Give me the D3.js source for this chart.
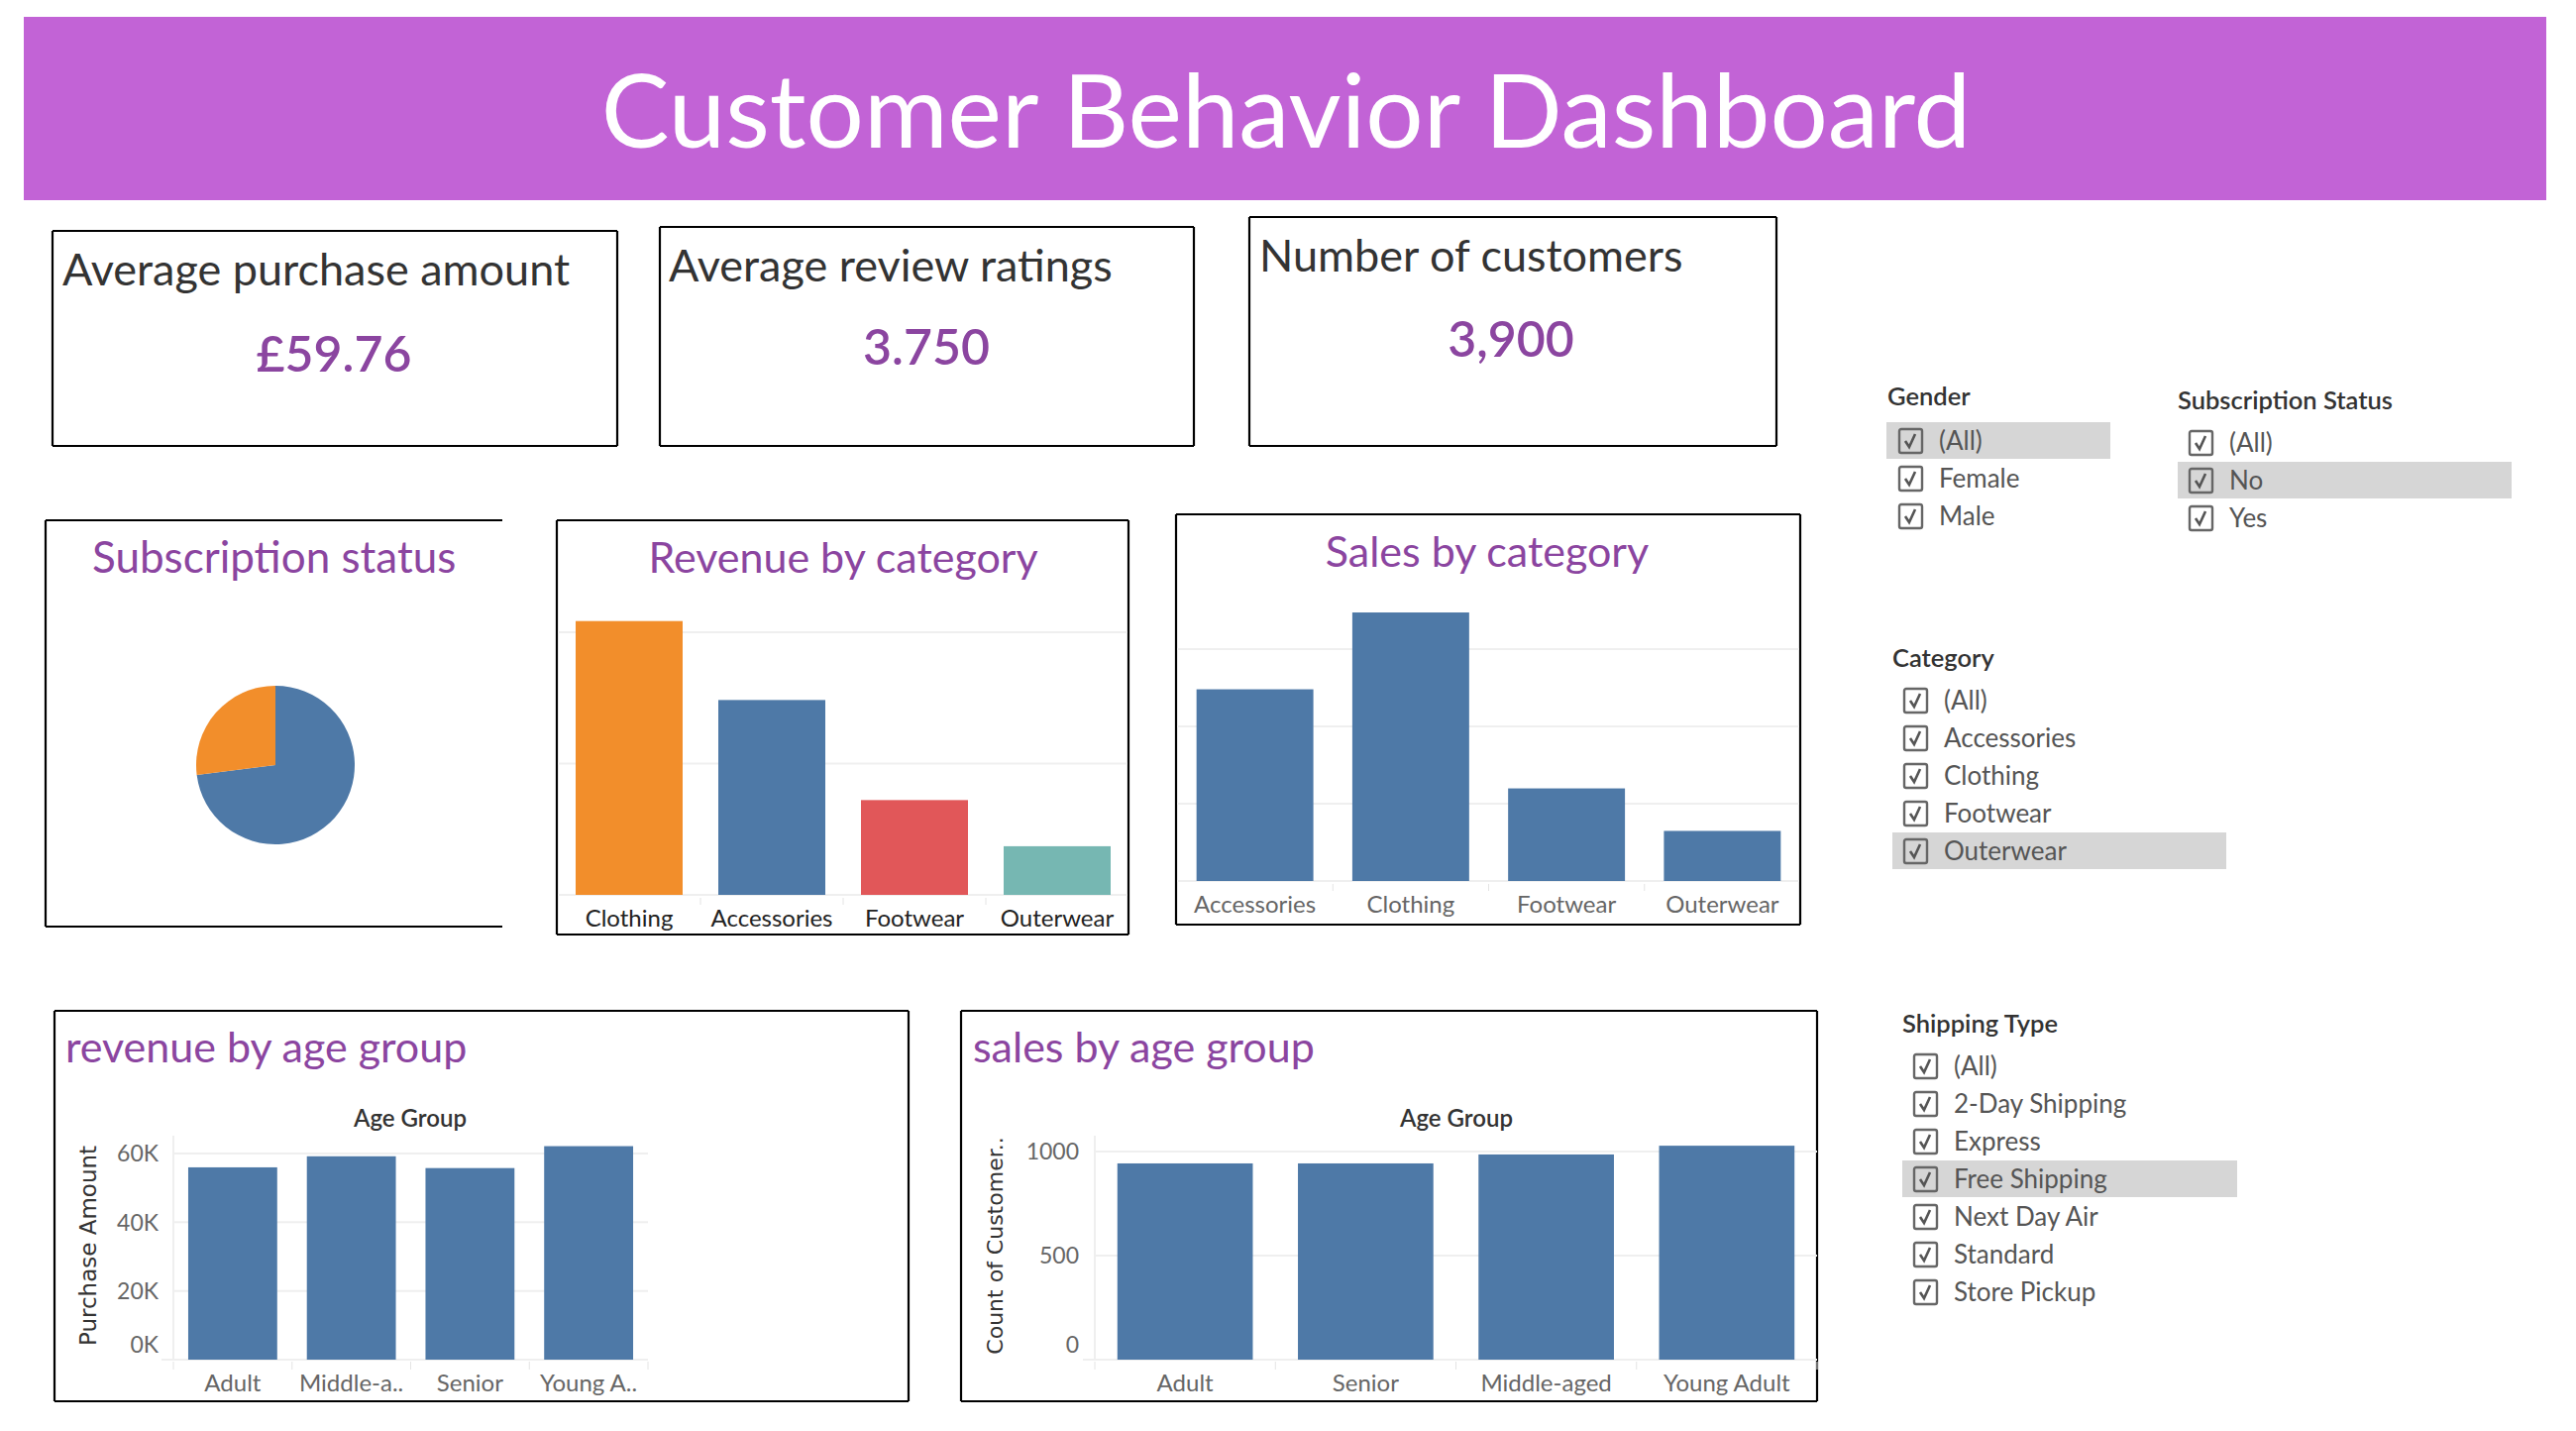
<!DOCTYPE html>
<html>
<head>
<meta charset="utf-8">
<script src="https://cdn.jsdelivr.net/npm/d3@7"></script>
<style>
  body { margin: 0; background: #fff; }
  svg { display: block; font-family: Lato, "Open Sans", sans-serif; }
</style>
</head>
<body>
<div id="dash"></div>
<script>
// values
const kpiTitles = ['Average purchase amount', 'Average review ratings', 'Number of customers']
const kpiValues = ['£59.76', '3.750', '3,900']

const subStatus = ['No', 'Yes']
const subCounts = [2847, 1053]

const revCategories = ['Clothing', 'Accessories', 'Footwear', 'Outerwear']
const revByCategory = [104264, 74200, 36093, 18524]
const revCatTicks = [0, 50000, 100000]

const salesCategories = ['Accessories', 'Clothing', 'Footwear', 'Outerwear']
const salesByCategory = [1240, 1737, 599, 324]
const salesCatTicks = [0, 500, 1000, 1500]

const revAgeGroups = ['Adult', 'Middle-a..', 'Senior', 'Young A..']
const revByAge = [55978, 59197, 55763, 62143]
const revAgeTicks = [0, 20000, 40000, 60000]
const revAgeTickLabels = ['0K', '20K', '40K', '60K']

const salesAgeGroups = ['Adult', 'Senior', 'Middle-aged', 'Young Adult']
const salesByAge = [943, 943, 986, 1028]
const salesAgeTicks = [0, 500, 1000]

const genderItems = ['(All)', 'Female', 'Male']
const subscriptionItems = ['(All)', 'No', 'Yes']
const categoryItems = ['(All)', 'Accessories', 'Clothing', 'Footwear', 'Outerwear']
const shippingItems = ['(All)', '2-Day Shipping', 'Express', 'Free Shipping', 'Next Day Air', 'Standard', 'Store Pickup']

const purple = '#8b45a0'
const tabBlue = '#4e79a7'
const catColors = ['#f28e2b', '#4e79a7', '#e15759', '#76b7b2']
const gridColor = '#efefef'

let svg = d3.select('#dash').append('svg')
.attr('width', 2600)
.attr('height', 1444)

// banner
svg.append('rect')
.attr('x', 24).attr('y', 17)
.attr('width', 2546).attr('height', 185)
.attr('fill', '#c263d6')

svg.append('text')
.attr('x', 1298).attr('y', 149)
.attr('text-anchor', 'middle')
.attr('fill', '#fff')
.style('font-size', '103px')
.text('Customer Behavior Dashboard')

const box = (x0, y0, x1, y1, sides) => {
	sides = sides || 'tblr'
	let g = svg.append('g').attr('stroke', '#000').attr('stroke-width', 2.2)
	if (sides.includes('t')) g.append('line').attr('x1', x0).attr('x2', x1).attr('y1', y0).attr('y2', y0)
	if (sides.includes('b')) g.append('line').attr('x1', x0).attr('x2', x1).attr('y1', y1).attr('y2', y1)
	if (sides.includes('l')) g.append('line').attr('x1', x0).attr('x2', x0).attr('y1', y0).attr('y2', y1)
	if (sides.includes('r')) g.append('line').attr('x1', x1).attr('x2', x1).attr('y1', y0).attr('y2', y1)
}

// KPI cards
const kpiBoxes = [
	{x0: 53, y0: 233, x1: 623, y1: 450, tx: 63, ty: 288, vx: 337, vy: 375},
	{x0: 666, y0: 229, x1: 1205, y1: 450, tx: 675, ty: 284, vx: 935, vy: 368},
	{x0: 1261, y0: 219, x1: 1793, y1: 450, tx: 1271, ty: 274, vx: 1525, vy: 360}
]

kpiBoxes.forEach((b, i) => {
	box(b.x0, b.y0, b.x1, b.y1)
	svg.append('text')
	.attr('x', b.tx).attr('y', b.ty)
	.attr('fill', '#333')
	.style('font-size', '45px')
	.text(kpiTitles[i])
	svg.append('text')
	.attr('x', b.vx).attr('y', b.vy)
	.attr('text-anchor', 'middle')
	.attr('fill', purple)
	.style('font-size', '50px')
	.style('font-weight', 600)
	.text(kpiValues[i])
})

// subscription pie
box(46, 525, 507, 935, 'tbl')
svg.append('text')
.attr('x', 93).attr('y', 578)
.attr('fill', purple)
.style('font-size', '44px')
.text('Subscription status')

let pie = d3.pie().sort(null)
let arc = d3.arc().innerRadius(0).outerRadius(80)

svg.append('g')
.attr('transform', 'translate(278,772)')
.selectAll('path')
.data(pie(subCounts))
.enter()
.append('path')
.attr('d', arc)
.attr('fill', (d, i) => i === 0 ? tabBlue : '#f28e2b')

// category bars
const categoryChart = (cfg) => {
	let x = d3.scaleBand().domain(cfg.cats).range(cfg.xr).paddingInner(0.25).paddingOuter(0.125)
	let y = d3.scaleLinear().domain(cfg.dom).range(cfg.yr)
	let g = svg.append('g')

	g.selectAll('.grid')
	.data(cfg.ticks)
	.enter()
	.append('line')
	.attr('x1', cfg.gx[0]).attr('x2', cfg.gx[1])
	.attr('y1', d => y(d)).attr('y2', d => y(d))
	.attr('stroke', gridColor).attr('stroke-width', 2)

	g.selectAll('.sep')
	.data(cfg.cats.slice(1))
	.enter()
	.append('line')
	.attr('x1', d => x(d) - x.step() * 0.125).attr('x2', d => x(d) - x.step() * 0.125)
	.attr('y1', y(0) + 3).attr('y2', y(0) + 10)
	.attr('stroke', '#e4e4e4').attr('stroke-width', 1)

	g.selectAll('rect')
	.data(cfg.values)
	.enter()
	.append('rect')
	.attr('x', (d, i) => x(cfg.cats[i]))
	.attr('width', x.bandwidth())
	.attr('y', d => y(d))
	.attr('height', d => y(0) - y(d))
	.attr('fill', (d, i) => cfg.colors ? cfg.colors[i] : tabBlue)

	g.selectAll('.lab')
	.data(cfg.labels || cfg.cats)
	.enter()
	.append('text')
	.attr('x', (d, i) => x(cfg.cats[i]) + x.bandwidth() / 2)
	.attr('y', cfg.ly)
	.attr('text-anchor', 'middle')
	.attr('fill', cfg.labelColor)
	.style('font-size', '24px')
	.text(d => d)
	return {x, y}
}

box(562, 525, 1139, 943)
svg.append('text')
.attr('x', 851).attr('y', 578)
.attr('text-anchor', 'middle')
.attr('fill', purple)
.style('font-size', '43px')
.text('Revenue by category')

categoryChart({
	cats: revCategories, values: revByCategory, colors: catColors,
	xr: [563, 1139], dom: [0, 100000], yr: [903, 638], ticks: revCatTicks,
	gx: [563, 1138], ly: 935, labelColor: '#222'
})

box(1187, 519, 1817, 933)
svg.append('text')
.attr('x', 1501).attr('y', 572)
.attr('text-anchor', 'middle')
.attr('fill', purple)
.style('font-size', '43px')
.text('Sales by category')

categoryChart({
	cats: salesCategories, values: salesByCategory,
	xr: [1188, 1817], dom: [0, 1500], yr: [889, 655], ticks: salesCatTicks,
	gx: [1188, 1816], ly: 921, labelColor: '#666'
})

// age group bars
const ageChart = (cfg) => {
	let x = d3.scaleBand().domain(cfg.cats).range(cfg.xr).paddingInner(0.25).paddingOuter(0.125)
	let y = d3.scaleLinear().domain(cfg.dom).range(cfg.yr)
	let g = svg.append('g')
	let x0 = cfg.xr[0], x1 = cfg.xr[1]

	g.append('line')
	.attr('x1', x0).attr('x2', x0)
	.attr('y1', 1146).attr('y2', y(0))
	.attr('stroke', gridColor).attr('stroke-width', 2)

	g.selectAll('.grid')
	.data(cfg.ticks)
	.enter()
	.append('line')
	.attr('x1', d => d === 0 ? x0 - 12 : x0).attr('x2', x1)
	.attr('y1', d => y(d)).attr('y2', d => y(d))
	.attr('stroke', gridColor).attr('stroke-width', 2)

	g.selectAll('.sep')
	.data(cfg.cats.concat(['end']))
	.enter()
	.append('line')
	.attr('x1', (d, i) => x0 + i * x.step()).attr('x2', (d, i) => x0 + i * x.step())
	.attr('y1', y(0) + 2).attr('y2', y(0) + 10)
	.attr('stroke', '#e4e4e4').attr('stroke-width', 1)

	g.selectAll('rect')
	.data(cfg.values)
	.enter()
	.append('rect')
	.attr('x', (d, i) => x(cfg.cats[i]))
	.attr('width', x.bandwidth())
	.attr('y', d => y(d))
	.attr('height', d => y(0) - y(d))
	.attr('fill', tabBlue)

	g.selectAll('.tick')
	.data(cfg.ticks)
	.enter()
	.append('text')
	.attr('x', cfg.tx)
	.attr('y', d => d === 0 ? y(d) - 15 : y(d))
	.attr('dy', '0.36em')
	.attr('text-anchor', 'end')
	.attr('fill', '#666')
	.style('font-size', '23px')
	.text((d, i) => cfg.tickLabels ? cfg.tickLabels[i] : d)

	g.selectAll('.lab')
	.data(cfg.cats)
	.enter()
	.append('text')
	.attr('x', d => x(d) + x.bandwidth() / 2)
	.attr('y', 1404)
	.attr('text-anchor', 'middle')
	.attr('fill', '#666')
	.style('font-size', '24px')
	.text(d => d)

	g.append('text')
	.attr('x', cfg.hx).attr('y', 1137)
	.attr('text-anchor', 'middle')
	.attr('fill', '#333')
	.style('font-size', '24px')
	.style('font-weight', 600)
	.text('Age Group')

	g.append('text')
	.attr('transform', `translate(${cfg.ax},1257) rotate(-90)`)
	.attr('text-anchor', 'middle')
	.attr('fill', '#333')
	.style('font-family', '"DejaVu Sans", sans-serif')
	.style('font-size', cfg.axisSize)
	.text(cfg.axisTitle)
}

box(55, 1020, 917, 1414)
svg.append('text')
.attr('x', 66).attr('y', 1072)
.attr('fill', purple)
.style('font-size', '43px')
.text('revenue by age group')

ageChart({
	cats: revAgeGroups, values: revByAge, xr: [175, 654],
	dom: [0, 60000], yr: [1372, 1164], ticks: revAgeTicks, tickLabels: revAgeTickLabels,
	tx: 160, hx: 414, ax: 97, axisTitle: 'Purchase Amount', axisSize: '23px'
})

box(970, 1020, 1834, 1414)
svg.append('text')
.attr('x', 982).attr('y', 1072)
.attr('fill', purple)
.style('font-size', '43px')
.text('sales by age group')

ageChart({
	cats: salesAgeGroups, values: salesByAge, xr: [1105, 1834],
	dom: [0, 1000], yr: [1372, 1162], ticks: salesAgeTicks,
	tx: 1089, hx: 1470, ax: 1012, axisTitle: 'Count of Customer..', axisSize: '22px'
})

// filter cards
const filterCard = (title, items, tx, ty, boxX, firstY, hiIndex, hiX, hiW) => {
	let g = svg.append('g')
	g.append('text')
	.attr('x', tx).attr('y', ty)
	.attr('fill', '#333')
	.style('font-size', '25.5px')
	.style('font-weight', 600)
	.text(title)

	let rows = g.selectAll('.row')
	.data(items)
	.enter()
	.append('g')
	.attr('transform', (d, i) => `translate(0,${firstY + i * 38})`)

	rows.filter((d, i) => i === hiIndex)
	.append('rect')
	.attr('x', hiX).attr('y', -7)
	.attr('width', hiW).attr('height', 37)
	.attr('fill', '#d6d6d6')

	rows.append('rect')
	.attr('x', boxX).attr('y', 0)
	.attr('width', 23).attr('height', 24)
	.attr('rx', 2)
	.attr('fill', 'none')
	.attr('stroke', '#666').attr('stroke-width', 2.4)

	rows.append('path')
	.attr('d', `M${boxX + 6},${12} L${boxX + 10},${18} L${boxX + 16},${5}`)
	.attr('fill', 'none')
	.attr('stroke', '#555').attr('stroke-width', 2.6)

	rows.append('text')
	.attr('x', boxX + 40).attr('y', 12)
	.attr('dy', '0.36em')
	.attr('fill', '#555')
	.style('font-size', '26px')
	.text(d => d)
}

filterCard('Gender', genderItems, 1905, 409, 1917, 433, 0, 1904, 226)
filterCard('Subscription Status', subscriptionItems, 2198, 413, 2210, 435, 1, 2198, 337)
filterCard('Category', categoryItems, 1910, 673, 1922, 695, 4, 1910, 337)
filterCard('Shipping Type', shippingItems, 1920, 1042, 1932, 1064, 3, 1920, 338)
</script>
</body>
</html>
